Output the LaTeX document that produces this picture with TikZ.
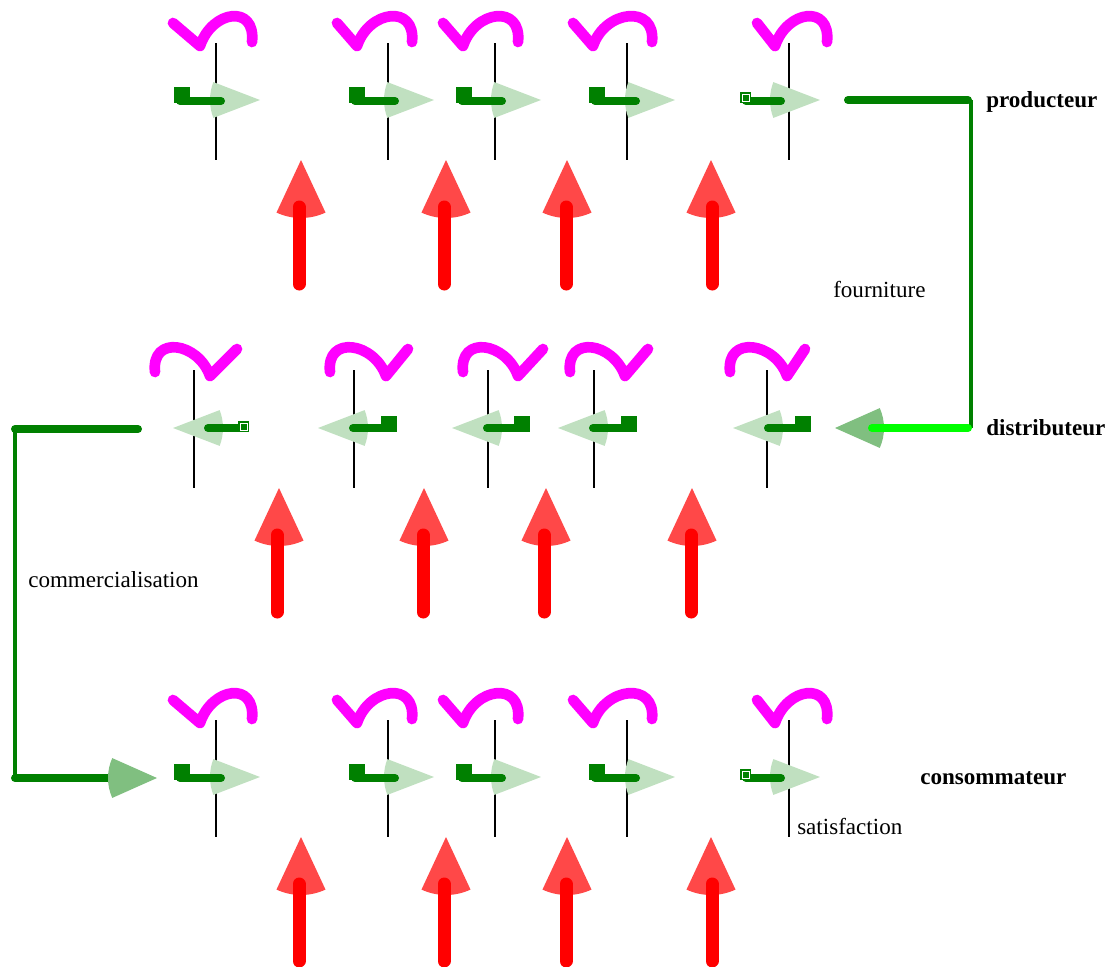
\documentclass[tikz,border=0pt]{standalone}
\usepackage{fontspec}
\setmainfont{Liberation Serif}
\definecolor{dkgreen}{RGB}{0,128,0}
\definecolor{palegreen}{RGB}{192,224,192}
\definecolor{midgreen}{RGB}{128,191,128}
\definecolor{lime}{RGB}{0,255,0}
\definecolor{mag}{RGB}{255,0,255}
\definecolor{headred}{RGB}{255,72,72}
\newcommand{\labelsize}{\fontsize{17.3}{20}\selectfont}
\newcommand{\flowright}[7]{%
  \draw[stem] (#1,43) -- (#1,160);
  \fill[pale] (#6,100) -- ++(159:50) arc[start angle=159, end angle=201, radius=50] -- cycle;
  \draw[flow] (#5+6,101) -- (#6-39,101);
  \fill[dkgreen] (#5,103) rectangle ++(#7,-#7);
  \draw[wave] (#2,23) -- (#3,46) .. controls (#3+12,10) and (#4+4,4) .. (#4,42);
}
\newcommand{\flowleft}[7]{%
  \draw[stem] (#1,370) -- (#1,488);
  \fill[pale] (#5,428) -- ++(21:50) arc[start angle=21, end angle=-21, radius=50] -- cycle;
  \draw[flow] (#5+35,428) -- (#6+6,428);
  \fill[dkgreen] (#6,432) rectangle ++(#7,-#7);
  \draw[wave] (#2,372) .. controls (#2-4,335) and (#3-12,342) .. (#3,376) -- (#4,349);
}
\newcommand{\raisearrow}[3]{%
  \fill[head] (#2,#3) -- ++(65:58) arc[start angle=65, end angle=115, radius=58] -- cycle;
  \draw[shaft] (#1,#3+124) -- (#1,#3+47);
}

\begin{document}
\begin{tikzpicture}[x=0.75pt, y=-0.75pt,
    stem/.style={line width=1.5pt},
    flow/.style={draw=dkgreen, line width=6pt, line cap=round},
    link/.style={draw=dkgreen, line width=3.25pt},
    wave/.style={draw=mag, line width=8pt, line cap=round, line join=round},
    pale/.style={fill=palegreen},
    deep/.style={fill=midgreen},
    head/.style={fill=headred},
    shaft/.style={draw=red, line width=9.75pt, line cap=round},
    role/.style={font=\labelsize\bfseries, inner sep=0pt},
    note/.style={font=\labelsize, inner sep=0pt}]
  \useasboundingbox (0,0) rectangle (1111,967);

  \foreach \dy in {0,677}{
    \begin{scope}[shift={(0,\dy)}]
      \flowright{216}{173}{200}{252}{174}{260}{16}
      \flowright{388}{337}{357}{412}{349}{434}{16}
      \flowright{495}{443}{463}{518}{456}{541}{16}
      \flowright{627}{573}{593}{652}{589}{675}{16}
      \flowright{789}{757}{775}{827}{740}{820}{11}
      \draw[white, line width=0.5pt] (742,101) rectangle (749,94);
    \end{scope}
  }

  \flowleft{194}{155}{210}{237}{173}{238}{11}
  \draw[white, line width=0.5pt] (240,430) rectangle (247,423);
  \flowleft{354}{330}{386}{408}{318}{381}{16}
  \flowleft{488}{463}{518}{543}{452}{514}{16}
  \flowleft{594}{570}{625}{648}{558}{621}{16}
  \flowleft{767}{730}{787}{805}{733}{795}{16}

  \foreach \sx/\tx in {299/301, 444/446, 566/567, 712/711}{
    \raisearrow{\sx}{\tx}{160}
    \raisearrow{\sx}{\tx}{837}
  }
  \foreach \sx/\tx in {277/279, 423/424, 544/546, 691/692}{
    \raisearrow{\sx}{\tx}{488}
  }

  \coordinate (prodout) at (848,100);
  \coordinate (prodcorner) at (971,100);
  \coordinate (distcorner) at (971,428);
  \coordinate (distin) at (872,428);
  \coordinate (disttip) at (835,428);
  \draw[flow] (prodout) -- (968,100);
  \draw[link] (prodcorner) -- (distcorner);
  \fill[deep] (disttip) -- ++(24:49) arc[start angle=24, end angle=-24, radius=49] -- cycle;
  \draw[flow, draw=lime] (968,428) -- (distin);

  \coordinate (distout) at (138,429);
  \coordinate (commtop) at (15,429);
  \coordinate (commbot) at (15,778);
  \coordinate (consin) at (117,778);
  \coordinate (constip) at (157,778);
  \draw[flow] (distout) -- (commtop);
  \draw[link] (commtop) -- (commbot);
  \draw[flow] (commbot) -- (consin);
  \fill[deep] (constip) -- ++(156:49) arc[start angle=156, end angle=204, radius=49] -- cycle;

  \node[role, anchor=base west] (producteur) at (986,107) {producteur};
  \node[role, anchor=base west] (distributeur) at (986,435) {distributeur};
  \node[role, anchor=base west] (consommateur) at (920,784) {consommateur};
  \node[note, anchor=base west] (fourniture) at (833,297) {fourniture};
  \node[note, anchor=base west] (commercialisation) at (28,587) {commercialisation};
  \node[note, anchor=base west] (satisfaction) at (797,834) {satisfaction};
\end{tikzpicture}
\end{document}
